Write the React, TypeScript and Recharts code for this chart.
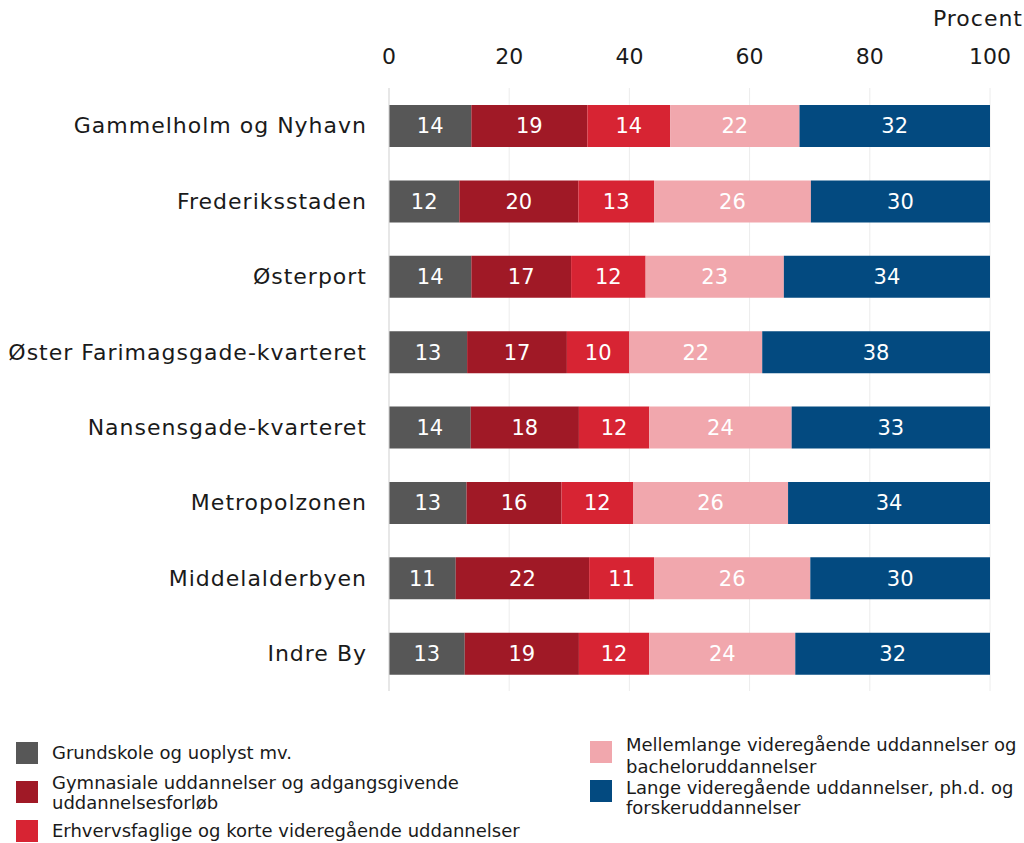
import React from "react";
import { BarChart, Bar, XAxis, YAxis, CartesianGrid, LabelList } from "recharts";

const categories = [
  "Gammelholm og Nyhavn",
  "Frederiksstaden",
  "Østerport",
  "Øster Farimagsgade-kvarteret",
  "Nansensgade-kvarteret",
  "Metropolzonen",
  "Middelalderbyen",
  "Indre By",
];

const grundskole = [13.7, 11.7, 13.7, 13.0, 13.6, 12.9, 11.1, 12.6];
const gymnasiale = [19.3, 19.8, 16.6, 16.6, 18.0, 15.8, 22.2, 19.0];
const erhverv = [13.8, 12.6, 12.4, 10.4, 11.7, 11.9, 10.8, 11.7];
const mellemlange = [21.5, 26.1, 23.0, 22.1, 23.7, 25.8, 26.0, 24.3];
const lange = [31.7, 29.8, 34.3, 37.9, 33.0, 33.6, 29.9, 32.4];

const xTicks = [0, 20, 40, 60, 80, 100];

const seriesNames = [
  "Grundskole og uoplyst mv.",
  "Gymnasiale uddannelser og adgangsgivende uddannelsesforløb",
  "Erhvervsfaglige og korte videregående uddannelser",
  "Mellemlange videregående uddannelser og bacheloruddannelser",
  "Lange videregående uddannelser, ph.d. og forskeruddannelser",
];
const colors = ["#575757", "#A01926", "#D72433", "#F1A7AD", "#034A80"];
const keys = ["s0", "s1", "s2", "s3", "s4"];
const seriesValues = [grundskole, gymnasiale, erhverv, mellemlange, lange];

const data = categories.map((c, i) => {
  const row: any = { name: c };
  keys.forEach((k, j) => (row[k] = seriesValues[j][i]));
  return row;
});

const FONT = "'DejaVu Sans', sans-serif";

export default function App() {
  return (
    <div
      style={{
        position: "absolute",
        left: 0,
        top: 0,
        width: 1024,
        height: 843,
        background: "#fff",
        fontFamily: FONT,
        color: "#1a1a1a",
      }}
    >
      <div
        style={{
          position: "absolute",
          right: 1,
          top: 6,
          fontSize: 22,
          letterSpacing: 1,
          color: "#1a1a1a",
        }}
      >
        Procent
      </div>
      <BarChart
        width={1024}
        height={700}
        data={data}
        layout="vertical"
        margin={{ top: 0, right: 34, bottom: 9, left: 0 }}
        barSize={42}
      >
        <CartesianGrid horizontal={false} stroke="#ececec" />
        <XAxis
          type="number"
          orientation="top"
          domain={[0, 100]}
          ticks={xTicks}
          height={88}
          tickLine={false}
          axisLine={false}
          tickSize={0}
          tickMargin={24}
          tick={{ fontSize: 22, fill: "#1a1a1a", fontFamily: FONT }}
        />
        <YAxis
          type="category"
          dataKey="name"
          width={389}
          tickLine={false}
          axisLine={{ stroke: "#d9d9d9" }}
          tickSize={0}
          tickMargin={22}
          tick={{ fontSize: 22, fill: "#1a1a1a", fontFamily: FONT, letterSpacing: 1 }}
        />
        {keys.map((k, j) => (
          <Bar
            key={k}
            dataKey={k}
            stackId="a"
            fill={colors[j]}
            isAnimationActive={false}
          >
            <LabelList
              dataKey={k}
              position="center"
              fill="#ffffff"
              fontSize={21}
              fontFamily={FONT}
              formatter={(v: any) => Math.round(Number(v))}
            />
          </Bar>
        ))}
      </BarChart>
      <div style={{ position: "absolute", left: 0, top: 0 }}>
        {[
          { i: 0, x: 16, y: 742, tx: 52, ty: 743, lh: 20 },
          { i: 1, x: 16, y: 781, tx: 52, ty: 773, lh: 20 },
          { i: 2, x: 16, y: 820, tx: 52, ty: 821, lh: 20 },
          { i: 3, x: 590, y: 741, tx: 626, ty: 734, lh: 22 },
          { i: 4, x: 590, y: 780, tx: 626, ty: 778, lh: 20 },
        ].map((it) => (
          <React.Fragment key={it.i}>
            <div
              style={{
                position: "absolute",
                left: it.x,
                top: it.y,
                width: 22,
                height: 22,
                background: colors[it.i],
              }}
            />
            <div
              style={{
                position: "absolute",
                left: it.tx,
                top: it.ty,
                width: it.i >= 3 ? 398 : 480,
                fontSize: 18,
                lineHeight: `${it.lh}px`,
                color: "#1a1a1a",
                whiteSpace: "normal",
              }}
            >
              {seriesNames[it.i]}
            </div>
          </React.Fragment>
        ))}
      </div>
    </div>
  );
}
